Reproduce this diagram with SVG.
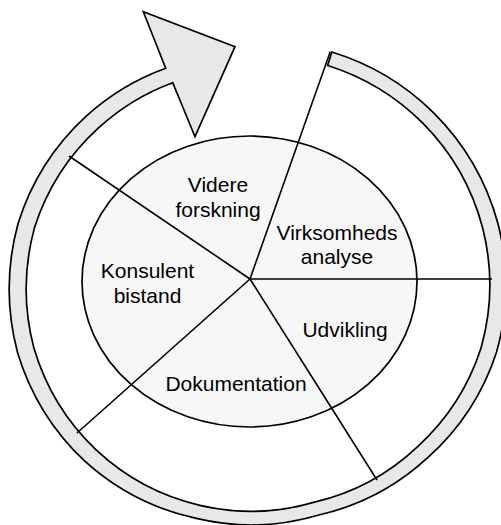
<svg xmlns="http://www.w3.org/2000/svg" width="501" height="525" viewBox="0 0 501 525">
  <style>
    .outline { stroke: #000; stroke-width: 1.7; stroke-linejoin: miter; }
    .band { fill: #e8e8e8; }
    .core { fill: #f7f7f7; }
    .spoke { stroke: #000; stroke-width: 1.6; stroke-linecap: butt; fill: none; }
    .label { font-family: "Liberation Sans", Arial, sans-serif; font-size: 21px; fill: #000; text-anchor: middle; }
  </style>

  <!-- circular arrow running clockwise from the tail (top right) to the head (top left) -->
  <g id="cycle-arrow">
    <path class="band outline" d="M331.8,52 A247.6,247.6 0 0 1 433.4,112.6 A248.2,248.2 0 0 1 498,223.7 A247.8,247.8 0 0 1 496.6,351.9 A243.5,243.5 0 0 1 427.7,457.7 A237.5,237.5 0 0 1 318.8,515 A236.8,236.8 0 0 1 196.3,518.4 A241.8,241.8 0 0 1 84.8,461.2 A247,247 0 0 1 17.5,352.4 A248.8,248.8 0 0 1 18,223.7 A245.8,245.8 0 0 1 86.2,116.2 A241,241 0 0 1 165.7,68.3 L143.3,11.7 L235,46.7 L195,136.7 L172.7,82.7 A224,224 0 0 0 98.2,128.2 A228.8,228.8 0 0 0 34.4,228.1 A231.8,231.8 0 0 0 33.9,348 A230.5,230.5 0 0 0 96.1,449.9 A227,227 0 0 0 199.8,505.3 A223.2,223.2 0 0 0 315.3,501.9 A223.2,223.2 0 0 0 417.1,447.1 A228,228 0 0 0 481.1,347.8 A231.8,231.8 0 0 0 482.6,227.8 A232.8,232.8 0 0 0 422.8,123.2 A233,233 0 0 0 327.6,65.5 Z"/>
  </g>

  <!-- central ellipse holding the five sectors -->
  <g id="core">
    <ellipse class="core outline" cx="249.5" cy="281.5" rx="167.5" ry="145.5"/>
  </g>

  <!-- sector dividers from the hub out to the arrow band -->
  <g id="connectors">
    <line class="spoke" x1="250" y1="279" x2="330.3" y2="51.5"/>
    <line class="spoke" x1="250" y1="279" x2="492" y2="279"/>
    <line class="spoke" x1="250" y1="279" x2="377" y2="480"/>
    <line class="spoke" x1="250" y1="279" x2="77" y2="433"/>
    <line class="spoke" x1="250" y1="279" x2="69" y2="156"/>
  </g>

  <g id="sector-videre-forskning">
    <text class="label" x="218" y="192">Videre</text>
    <text class="label" x="218" y="217">forskning</text>
  </g>
  <g id="sector-virksomhedsanalyse">
    <text class="label" x="337" y="240">Virksomheds</text>
    <text class="label" x="337" y="264">analyse</text>
  </g>
  <g id="sector-udvikling">
    <text class="label" x="345" y="337">Udvikling</text>
  </g>
  <g id="sector-dokumentation">
    <text class="label" x="236" y="391">Dokumentation</text>
  </g>
  <g id="sector-konsulent-bistand">
    <text class="label" x="147.5" y="278">Konsulent</text>
    <text class="label" x="147.5" y="303">bistand</text>
  </g>
</svg>
